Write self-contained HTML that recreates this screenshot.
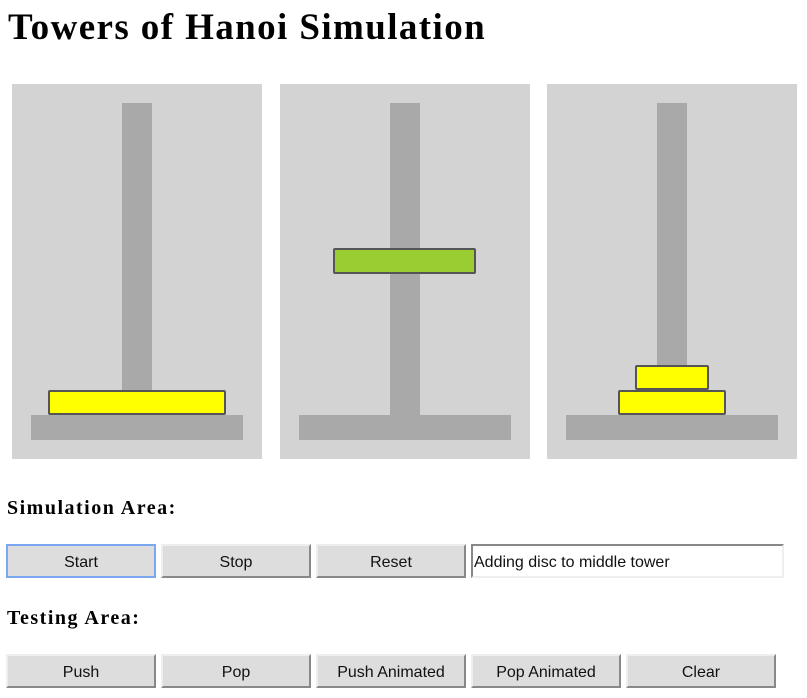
<!DOCTYPE html>
<html><head><meta charset="utf-8"><style>
body{margin:0;width:807px;height:698px;background:#fff;position:relative;overflow:hidden;font-family:"Liberation Serif",serif}
.a{position:absolute;box-sizing:border-box}
h1{position:absolute;left:8px;top:7px;margin:0;font-size:37px;font-weight:bold;line-height:42px;letter-spacing:1.4px}
h3{position:absolute;left:7px;margin:0;font-size:20px;font-weight:bold;line-height:24px;letter-spacing:1.5px}
.panel{background:#d3d3d3;width:250px;height:375px;top:84px}
.pole{background:#a9a9a9;left:110px;top:19px;width:30px;height:312px}
.base{background:#a9a9a9;left:19px;top:331px;width:212px;height:25px}
.disc{border:2px solid #555;border-radius:2px}
.btn{height:34px;width:150px;background:#ddd;border:2px solid;border-color:#eee #888 #888 #eee;font-family:"Liberation Sans",sans-serif;font-size:16px;color:#111;text-align:center;line-height:34px}
</style></head><body>
<h1>Towers of Hanoi Simulation</h1>
<div class="a panel" style="left:12px">
 <div class="a pole"></div>
 <div class="a base"></div>
 <div class="a disc" style="left:36px;top:306px;width:178px;height:25px;background:#ff0"></div>
</div>
<div class="a panel" style="left:280px">
 <div class="a pole"></div>
 <div class="a base"></div>
 <div class="a disc" style="left:53px;top:164px;width:143px;height:26px;background:#9acd32"></div>
</div>
<div class="a panel" style="left:547px">
 <div class="a pole"></div>
 <div class="a base"></div>
 <div class="a disc" style="left:71px;top:306px;width:108px;height:25px;background:#ff0"></div>
 <div class="a disc" style="left:88px;top:281px;width:74px;height:25px;background:#ff0"></div>
</div>
<h3 style="top:496px">Simulation Area:</h3>
<div class="a btn" style="left:6px;top:544px;border-color:#7aa7f0">Start</div>
<div class="a btn" style="left:161px;top:544px">Stop</div>
<div class="a btn" style="left:316px;top:544px">Reset</div>
<div class="a" style="left:471px;top:544px;width:313px;height:34px;border:2px solid;border-color:#888 #eee #eee #888;font-family:'Liberation Sans',sans-serif;font-size:16px;line-height:34px;padding-left:1px;color:#111">Adding disc to middle tower</div>
<h3 style="top:606px">Testing Area:</h3>
<div class="a btn" style="left:6px;top:654px">Push</div>
<div class="a btn" style="left:161px;top:654px">Pop</div>
<div class="a btn" style="left:316px;top:654px">Push Animated</div>
<div class="a btn" style="left:471px;top:654px">Pop Animated</div>
<div class="a btn" style="left:626px;top:654px">Clear</div>
</body></html>
